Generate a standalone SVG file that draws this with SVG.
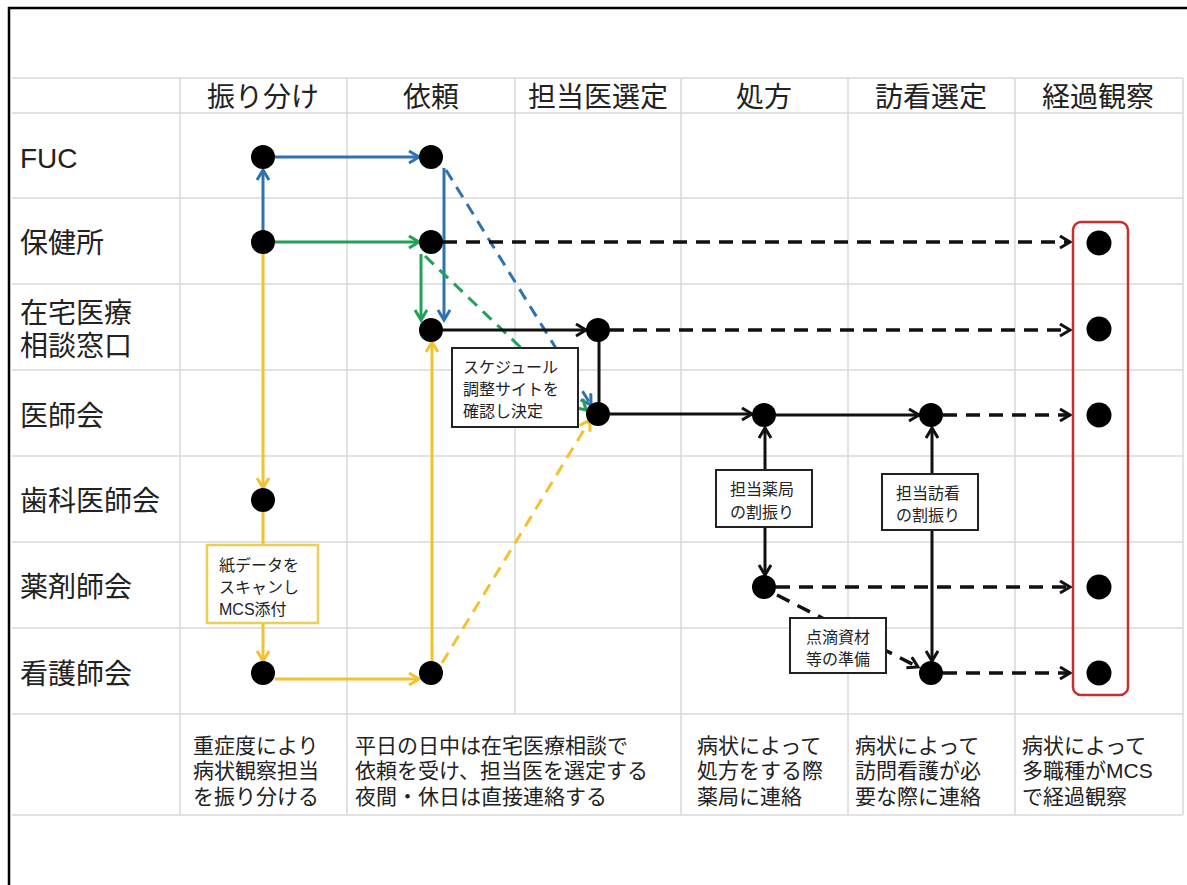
<svg xmlns="http://www.w3.org/2000/svg" width="1187" height="885" viewBox="0 0 1187 885">
<defs>
<style>
.grid{stroke:#d9d9d9;stroke-width:1.5;fill:none}
.t{font-family:"Liberation Sans","Noto Sans CJK JP",sans-serif;fill:#222}
.hd{font-size:28px;text-anchor:middle}
.rl{font-size:28px}
.ds{font-size:21px}
.bx{font-size:16px}
.lbl{fill:#fff;stroke:#222;stroke-width:2}
.dot{fill:#000}
.k{stroke:#111;stroke-width:3;fill:none}
.kd{stroke:#111;stroke-width:3.5;fill:none;stroke-dasharray:14 9}
.b{stroke:#2f72b0;stroke-width:3;fill:none}
.bd{stroke:#2f72b0;stroke-width:3;fill:none;stroke-dasharray:12 8}
.g{stroke:#22a05a;stroke-width:3;fill:none}
.gd{stroke:#22a05a;stroke-width:3;fill:none;stroke-dasharray:12 8}
.y{stroke:#f2c230;stroke-width:3;fill:none}
.yd{stroke:#f2c230;stroke-width:3;fill:none;stroke-dasharray:12 8}
</style>
<marker id="ak" markerUnits="userSpaceOnUse" markerWidth="16" markerHeight="16" refX="12" refY="7" orient="auto"><path d="M2,1 L12,7 L2,13" fill="none" stroke="#111" stroke-width="3"/></marker>
<marker id="ab" markerUnits="userSpaceOnUse" markerWidth="16" markerHeight="16" refX="12" refY="7" orient="auto"><path d="M2,1 L12,7 L2,13" fill="none" stroke="#2f72b0" stroke-width="3"/></marker>
<marker id="ag" markerUnits="userSpaceOnUse" markerWidth="16" markerHeight="16" refX="12" refY="7" orient="auto"><path d="M2,1 L12,7 L2,13" fill="none" stroke="#22a05a" stroke-width="3"/></marker>
<marker id="ay" markerUnits="userSpaceOnUse" markerWidth="16" markerHeight="16" refX="12" refY="7" orient="auto"><path d="M2,1 L12,7 L2,13" fill="none" stroke="#f2c230" stroke-width="3"/></marker>
</defs>
<rect width="1187" height="885" fill="#fff"/>
<path d="M9,885 V8 H1187" stroke="#000" stroke-width="2.5" fill="none"/>
<g id="grid" class="grid">
<path d="M12,78 H1183 M12,113 H1183 M12,198 H1183 M12,284 H1183 M12,370 H1183 M12,456 H1183 M12,542 H1183 M12,628 H1183 M12,714 H1183 M12,815 H1183"/>
<path d="M180,78 V815 M347,78 V815 M515,78 V714 M681,78 V815 M848,78 V815 M1015,78 V815 M1183,78 V815"/>
</g>
<g id="headers" class="t hd">
<text x="263" y="107">振り分け</text>
<text x="431" y="107">依頼</text>
<text x="598" y="107">担当医選定</text>
<text x="764" y="107">処方</text>
<text x="931" y="107">訪看選定</text>
<text x="1098" y="107">経過観察</text>
</g>
<g id="rowlabels" class="t rl">
<text x="20" y="168">FUC</text>
<text x="20" y="253">保健所</text>
<text x="20" y="323">在宅医療<tspan x="20" dy="33">相談窓口</tspan></text>
<text x="20" y="426">医師会</text>
<text x="20" y="511">歯科医師会</text>
<text x="20" y="597">薬剤師会</text>
<text x="20" y="684">看護師会</text>
</g>
<g id="descriptions" class="t ds">
<text x="193" y="753">重症度により<tspan x="193" dy="25">病状観察担当</tspan><tspan x="193" dy="26">を振り分ける</tspan></text>
<text x="355" y="753">平日の日中は在宅医療相談で<tspan x="355" dy="25">依頼を受け、担当医を選定する</tspan><tspan x="355" dy="26">夜間・休日は直接連絡する</tspan></text>
<text x="697" y="753">病状によって<tspan x="697" dy="25">処方をする際</tspan><tspan x="697" dy="26">薬局に連絡</tspan></text>
<text x="855" y="753">病状によって<tspan x="855" dy="25">訪問看護が必</tspan><tspan x="855" dy="26">要な際に連絡</tspan></text>
<text x="1022" y="753">病状によって<tspan x="1022" dy="25">多職種がMCS</tspan><tspan x="1022" dy="26">で経過観察</tspan></text>
</g>
<g id="connectors">
<path class="b" d="M263,232 V170" marker-end="url(#ab)"/>
<path class="b" d="M275,157 H419" marker-end="url(#ab)"/>
<path class="b" d="M444,168 V320" marker-end="url(#ab)"/>
<path class="bd" d="M446,170 L591,405" marker-end="url(#ab)"/>
<path class="g" d="M275,242 H419" marker-end="url(#ag)"/>
<path class="g" d="M421,254 V320" marker-end="url(#ag)"/>
<path class="gd" d="M425,256 L586,410" marker-end="url(#ag)"/>
<path class="y" d="M263,254 V488" marker-end="url(#ay)"/>
<path class="y" d="M263,512 V661" marker-end="url(#ay)"/>
<path class="y" d="M275,679 H419" marker-end="url(#ay)"/>
<path class="y" d="M432,662 V342" marker-end="url(#ay)"/>
<path class="yd" d="M442,663 L590,420" marker-end="url(#ay)"/>
<path class="k" d="M443,330 H586" marker-end="url(#ak)"/>
<path class="k" d="M599,330 V413"/>
<path class="k" d="M610,414 H752" marker-end="url(#ak)"/>
<path class="k" d="M776,415 H919" marker-end="url(#ak)"/>
<path class="k" d="M765,500 V428" marker-end="url(#ak)"/>
<path class="k" d="M765,500 V575" marker-end="url(#ak)"/>
<path class="k" d="M932,500 V428" marker-end="url(#ak)"/>
<path class="k" d="M932,500 V661" marker-end="url(#ak)"/>
<path class="kd" d="M443,242 H1070" marker-end="url(#ak)"/>
<path class="kd" d="M610,330 H1070" marker-end="url(#ak)"/>
<path class="kd" d="M943,415 H1070" marker-end="url(#ak)"/>
<path class="kd" d="M776,587 H1070" marker-end="url(#ak)"/>
<path class="kd" d="M943,673 H1070" marker-end="url(#ak)"/>
<path class="kd" d="M777,595 L918,667" marker-end="url(#ak)"/>
</g>
<g id="box-schedule">
<rect class="lbl" x="452" y="348" width="126" height="79"/>
<text class="t bx" x="463" y="373">スケジュール<tspan x="463" dy="22">調整サイトを</tspan><tspan x="463" dy="22">確認し決定</tspan></text>
</g>
<g id="box-scan">
<rect x="207" y="545" width="111" height="78" fill="#fff" stroke="#e8cf55" stroke-width="2.5"/>
<text class="t bx" x="219" y="571">紙データを<tspan x="219" dy="22">スキャンし</tspan><tspan x="219" dy="22">MCS添付</tspan></text>
</g>
<g id="box-pharmacy">
<rect class="lbl" x="716" y="470" width="96" height="57"/>
<text class="t bx" x="730" y="495">担当薬局<tspan x="730" dy="23">の割振り</tspan></text>
</g>
<g id="box-nursing">
<rect class="lbl" x="882" y="474" width="96" height="56"/>
<text class="t bx" x="896" y="499">担当訪看<tspan x="896" dy="22">の割振り</tspan></text>
</g>
<g id="box-drip">
<rect class="lbl" x="790" y="618" width="96" height="55"/>
<text class="t bx" x="806" y="643">点滴資材<tspan x="806" dy="22">等の準備</tspan></text>
</g>
<g id="observe-group">
<rect x="1073" y="222" width="55" height="473" rx="8" fill="none" stroke="#c62f2f" stroke-width="2.5"/>
</g>
<g id="node-fuc-1"><circle class="dot" cx="263" cy="157" r="12"/></g>
<g id="node-fuc-2"><circle class="dot" cx="431" cy="157" r="12"/></g>
<g id="node-hoken-1"><circle class="dot" cx="263" cy="242" r="12"/></g>
<g id="node-hoken-2"><circle class="dot" cx="431" cy="242" r="12"/></g>
<g id="node-zaitaku-2"><circle class="dot" cx="431" cy="330" r="12"/></g>
<g id="node-zaitaku-3"><circle class="dot" cx="598" cy="330" r="12"/></g>
<g id="node-ishikai-3"><circle class="dot" cx="598" cy="414" r="12"/></g>
<g id="node-ishikai-4"><circle class="dot" cx="764" cy="415" r="12"/></g>
<g id="node-ishikai-5"><circle class="dot" cx="931" cy="415" r="12"/></g>
<g id="node-shika-1"><circle class="dot" cx="263" cy="500" r="12"/></g>
<g id="node-yakuzai-4"><circle class="dot" cx="764" cy="587" r="12"/></g>
<g id="node-kango-1"><circle class="dot" cx="263" cy="673" r="12"/></g>
<g id="node-kango-2"><circle class="dot" cx="431" cy="673" r="12"/></g>
<g id="node-kango-5"><circle class="dot" cx="931" cy="673" r="12"/></g>
<g id="node-obs-1"><circle class="dot" cx="1099" cy="243" r="12.5"/></g>
<g id="node-obs-2"><circle class="dot" cx="1099" cy="329" r="12.5"/></g>
<g id="node-obs-3"><circle class="dot" cx="1099" cy="415" r="12.5"/></g>
<g id="node-obs-4"><circle class="dot" cx="1099" cy="587" r="12.5"/></g>
<g id="node-obs-5"><circle class="dot" cx="1099" cy="673" r="12.5"/></g>
</svg>
